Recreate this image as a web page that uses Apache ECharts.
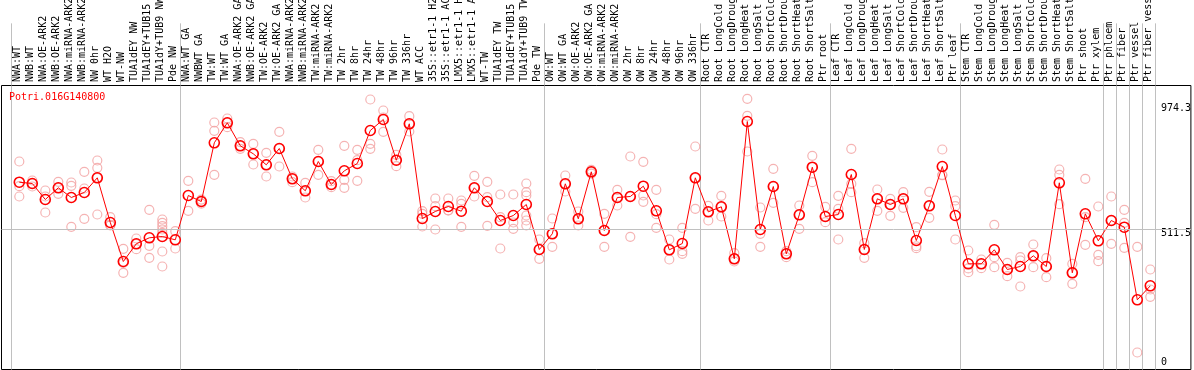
<!DOCTYPE html>
<html><head><meta charset="utf-8">
<script src="https://cdn.jsdelivr.net/npm/echarts@6/dist/echarts.min.js"></script>
<style>html,body{margin:0;padding:0;background:#fff}#c{width:1194px;height:370px}</style>
</head><body><div id="c"></div>
<script>
const geneId = 'Potri.016G140800';

const categories = [
  'NWA:WT','NWB:WT','NWA:OE-ARK2','NWB:OE-ARK2','NWA:miRNA-ARK2','NWB:miRNA-ARK2','NW 0hr','WT H2O','WT-NW','TUA1dEY NW',
  'TUA1dEY+TUB15 NW','TUA1dY+TUB9 NW','Pde NW',
  'NWA:WT GA','NWBWT GA','TW:WT','TW:WT GA','NWA:OE-ARK2 GA','NWB:OE-ARK2 GA','TW:OE-ARK2','TW:OE-ARK2 GA',
  'NWA:miRNA-ARK2','NWB:miRNA-ARK2','TW:miRNA-ARK2','TW:miRNA-ARK2','TW 2hr','TW 8hr','TW 24hr','TW 48hr','TW 96hr','TW 336hr',
  'WT ACC','35S::etr1-1 H2O','35S::etr1-1 ACC','LMX5::etr1-1 H2O','LMX5::etr1-1 ACC','WT-TW','TUA1dEY TW','TUA1dEY+TUB15 TW',
  'TUA1dY+TUB9 TW','Pde TW',
  'OW:WT','OW:WT GA','OW:OE-ARK2','OW:OE-ARK2 GA','OW:miRNA-ARK2','OW:miRNA-ARK2','OW 2hr','OW 8hr','OW 24hr','OW 48hr','OW 96hr','OW 336hr',
  'Root CTR','Root LongCold','Root LongDrought','Root LongHeat','Root LongSalt','Root ShortCold','Root ShortDrought','Root ShortHeat','Root ShortSalt','Ptr root',
  'Leaf CTR','Leaf LongCold','Leaf LongDrought','Leaf LongHeat','Leaf LongSalt','Leaf ShortCold','Leaf ShortDrought','Leaf ShortHeat','Leaf ShortSalt','Ptr leaf',
  'Stem CTR','Stem LongCold','Stem LongDrought','Stem LongHeat','Stem LongSalt','Stem ShortCold','Stem ShortDrought','Stem ShortHeat','Stem ShortSalt','Ptr shoot',
  'Ptr xylem','Ptr phloem','Ptr fiber','Ptr vessel','Ptr fiber vessel'
];

const meanValues = [
  684.3, 679.5, 620.2, 663.6, 627.6, 646.2, 700.6, 535.0, 390.5, 456.1,
  478.3, 483.1, 470.9, 635.0, 612.8, 830.3, 904.4, 819.2, 789.5, 748.8,
  809.2, 696.9, 652.5, 761.0, 675.8, 726.5, 753.6, 875.9, 916.6, 765.8,
  900.7, 549.8, 575.8, 594.3, 576.9, 663.6, 612.8, 542.4, 560.9, 601.7,
  435.0, 493.1, 678.4, 548.7, 722.8, 505.4, 627.6, 631.3, 669.5, 578.4,
  433.9, 457.2, 700.6, 574.6, 593.2, 400.5, 909.2, 509.1, 668.4, 419.0,
  563.5, 739.9, 557.2, 564.6, 712.8, 435.0, 622.8, 601.7, 622.8, 468.3,
  596.9, 742.5, 560.9, 382.0, 382.0, 433.9, 360.9, 372.0, 411.6, 372.0,
  682.1, 348.6, 567.2, 467.2, 542.4, 517.6, 248.6, 300.5
];

const replicateValues = [
  [761.0, 669.5, 631.3], [690.6, 679.5, 668.4], [653.6, 631.3, 572.1], [685.8, 663.6, 641.3], [683.2, 671.0, 519.1],
  [722.8, 661.0, 548.7], [764.7, 737.7, 700.6, 564.6], [554.6, 526.0, 523.9], [437.6, 385.0, 348.6], [475.7, 456.0, 436.1],
  [582.1, 448.7, 404.2], [546.1, 533.9, 521.3, 509.1, 496.8, 427.6, 372.0], [502.8, 438.7], [689.5, 578.4], [620.0, 612.8, 605.0],
  [905.5, 874.8, 711.7], [920.3, 905.0, 888.1], [832.5, 819.2, 808.1], [826.6, 789.5, 749.9], [793.2, 748.8, 705.4],
  [871.0, 809.2, 742.5], [705.4, 696.9, 684.3], [682.1, 652.5, 627.6], [804.4, 761.0, 711.7], [688.0, 675.8, 665.8],
  [819.2, 693.2, 663.6], [804.4, 766.0, 689.5], [990.7, 826.6, 808.1], [950.0, 924.0, 871.0], [785.8, 765.8, 743.6],
  [928.8, 900.7, 872.2], [576.9, 567.2, 520.2], [623.9, 595.4, 509.1], [623.9, 580.0, 579.5], [616.5, 604.3, 519.1],
  [708.0, 663.6, 631.3], [685.8, 628.7, 522.8], [638.7, 554.6, 438.7], [638.7, 535.0, 511.7], [679.5, 647.3, 635.0, 560.9, 542.4, 523.9],
  [472.0, 435.0, 400.5], [549.8, 493.1, 445.0], [709.1, 678.4, 649.9], [575.8, 548.7, 523.9], [730.3, 722.8, 716.0],
  [567.2, 505.4, 445.0], [656.2, 627.6, 598.0], [779.5, 631.3, 482.0], [759.9, 635.0, 611.7], [656.2, 565.8, 515.4],
  [472.0, 433.9, 397.9], [515.4, 428.7, 419.0], [816.6, 700.6, 585.8], [596.9, 574.6, 542.4], [633.9, 593.2, 557.2],
  [421.3, 400.5, 390.5], [993.3, 930.3, 798.1], [590.6, 493.1, 445.0], [734.0, 668.4, 608.0], [428.7, 419.0, 406.4],
  [598.0, 563.5, 511.7], [782.1, 739.9, 684.3], [593.2, 557.2, 536.1], [633.9, 585.8, 472.0], [808.1, 678.4, 647.3],
  [458.3, 435.0, 404.2], [657.3, 622.8, 578.4], [622.8, 601.7, 559.8], [647.3, 622.8, 589.5], [517.6, 447.0, 439.8],
  [648.7, 596.9, 552.4], [805.5, 711.7, 710.0], [616.5, 595.4, 472.0], [431.3, 365.0, 350.9], [397.9, 382.0, 365.7],
  [526.5, 406.4, 369.4], [385.7, 360.9, 336.0], [406.4, 394.2, 297.9], [453.5, 411.6, 369.4], [402.7, 372.0, 332.3],
  [731.4, 711.7, 602.8], [382.0, 348.6, 307.9], [696.9, 554.6, 452.4], [594.3, 415.3, 391.6], [631.3, 542.4, 456.1],
  [582.1, 533.9, 441.3], [445.0, 53.4], [360.9, 286.8, 259.7]
];

const yTickValues = [0, 511.5, 974.3];
const groupStarts = [0, 13, 41, 53, 63, 73, 84, 85, 86, 87];

const MONO = '"DejaVu Sans Mono", "Liberation Mono", monospace';
const Y_MIN = -9.6, Y_MAX = 1042.6;

const repPoints = [];
replicateValues.forEach(function (arr, i) { arr.forEach(function (v) { repPoints.push([i, v]); }); });

const isBoundary = function (idx) { return groupStarts.indexOf(idx) >= 0; };
const sepLine = { show: true, interval: isBoundary, lineStyle: { color: '#c0c0c0', width: 1, type: 'solid' } };
const hiddenCat = { axisLine: { show: false }, axisTick: { show: false }, axisLabel: { show: false } };

const chart = echarts.init(document.getElementById('c'), null, { renderer: 'canvas', width: 1194, height: 370 });

chart.setOption({
  animation: false,
  backgroundColor: '#ffffff',
  title: {
    text: geneId, left: 9, top: 92, padding: 0,
    textStyle: { color: '#ff0000', fontFamily: MONO, fontSize: 10, fontWeight: 'normal' }
  },
  grid: [
    { left: 1.5, top: 85.5, width: 1192, height: 284, show: true, borderColor: '#000', borderWidth: 1, backgroundColor: 'transparent' },
    { left: 12.8, top: 85.5, width: 1144, height: 284 },
    { left: 11, top: 0, width: 1144, height: 85 },
    { left: 11, top: 85.5, width: 1144, height: 284 }
  ],
  xAxis: [
    { gridIndex: 0, type: 'value', min: 0, max: 1, show: false },
    Object.assign({ gridIndex: 1, type: 'category', data: categories, boundaryGap: true, splitLine: { show: false } }, hiddenCat),
    { gridIndex: 2, type: 'category', data: categories, boundaryGap: true, position: 'bottom',
      axisLine: { show: false }, axisTick: { show: false },
      axisLabel: { show: true, inside: true, interval: 0, rotate: 90, margin: 3, fontFamily: MONO, fontSize: 10, color: '#000' },
      splitLine: sepLine },
    Object.assign({ gridIndex: 3, type: 'category', data: categories, boundaryGap: true, splitLine: sepLine }, hiddenCat)
  ],
  yAxis: [
    { gridIndex: 0, type: 'value', min: Y_MIN, max: Y_MAX, position: 'right',
      axisLine: { show: false }, axisTick: { show: false }, splitLine: { show: false },
      axisLabel: {
        inside: true, customValues: yTickValues, align: 'left', margin: 30,
        fontFamily: MONO, fontSize: 10, color: '#000',
        formatter: function (v) { return v === 0 ? '{lo|0}' : '{hi|' + v + '}'; },
        rich: {
          lo: { padding: [0, 0, 9, 0], fontFamily: MONO, fontSize: 10, color: '#000' },
          hi: { padding: [9, 0, 0, 0], fontFamily: MONO, fontSize: 10, color: '#000' }
        }
      } },
    { gridIndex: 1, type: 'value', min: Y_MIN, max: Y_MAX, show: false },
    { gridIndex: 2, type: 'value', show: false },
    { gridIndex: 3, type: 'value', show: false }
  ],
  series: [
    { type: 'line', xAxisIndex: 0, yAxisIndex: 0, data: [], silent: true,
      markLine: { silent: true, symbol: 'none', label: { show: false },
        lineStyle: { color: '#c0c0c0', type: 'solid', width: 1 },
        data: [{ yAxis: yTickValues[1] }] } },
    { type: 'scatter', xAxisIndex: 1, yAxisIndex: 1, data: repPoints, symbol: 'circle', symbolSize: 9,
      itemStyle: { color: 'rgba(0,0,0,0)', borderColor: '#f2a0a0', borderWidth: 1.2 }, z: 3 },
    { type: 'line', xAxisIndex: 1, yAxisIndex: 1, data: meanValues, symbol: 'circle', symbolSize: 10,
      showSymbol: true, showAllSymbol: true,
      lineStyle: { color: '#ff0000', width: 1 },
      itemStyle: { color: 'rgba(0,0,0,0)', borderColor: '#ff0000', borderWidth: 1.6 }, z: 4 }
  ]
});
</script>
</body></html>
